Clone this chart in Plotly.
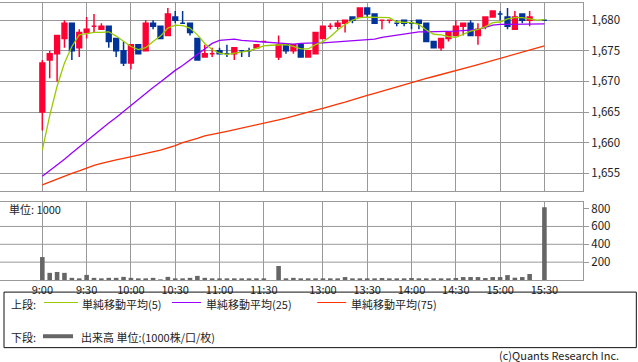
import plotly.graph_objects as go

# ---------------- data ----------------
slots = ["9:00", "9:05", "9:10", "9:15", "9:20", "9:25", "9:30", "9:35", "9:40", "9:45",
         "9:50", "9:55", "10:00", "10:05", "10:10", "10:15", "10:20", "10:25", "10:30", "10:35",
         "10:40", "10:45", "10:50", "10:55", "11:00", "11:05", "11:10", "11:15", "11:20", "11:25",
         "11:30", "12:25", "12:30", "12:35", "12:40", "12:45", "12:50", "12:55", "13:00", "13:05",
         "13:10", "13:15", "13:20", "13:25", "13:30", "13:35", "13:40", "13:45", "13:50", "13:55",
         "14:00", "14:05", "14:10", "14:15", "14:20", "14:25", "14:30", "14:35", "14:40", "14:45",
         "14:50", "14:55", "15:00", "15:05", "15:10", "15:15", "15:20", "15:25", "15:30"]
empty_slots = ["12:25", "15:25"]
candle_times = [t for t in slots if t not in empty_slots]

opens = [1665, 1673.5, 1674.5, 1677, 1679.5, 1675.5, 1678, 1679, 1678.5, 1679,
         1677, 1675, 1673, 1676, 1675, 1679.5, 1679, 1677.5, 1680.5, 1679.5,
         1679.5, 1677, 1674, 1674.5, 1675, 1674.5, 1674.5, 1675, 1675, 1675.5,
         1676.5,
         1674, 1676, 1675, 1676, 1674, 1674.5, 1677, 1679, 1679, 1679.5,
         1680.5, 1680.5, 1682, 1681, 1680, 1680, 1679.5, 1680, 1679.5, 1680,
         1679.5, 1676.5, 1675.5, 1677, 1677.5, 1679, 1679.5, 1677.5, 1679, 1680.5,
         1681, 1680.5, 1678.5, 1681, 1680,
         1680]
highs = [1673.5, 1675, 1677.5, 1680, 1679.5, 1678.5, 1680.5, 1681, 1679.5, 1679,
         1677, 1676.5, 1676, 1676, 1680, 1680, 1679, 1682, 1681.5, 1681.5,
         1679.5, 1677, 1676, 1675.5, 1675.5, 1676, 1675.5, 1675, 1675.5, 1676,
         1676.5,
         1677.5, 1676, 1676, 1676, 1675, 1678, 1679, 1679.5, 1680, 1680,
         1680.5, 1682, 1682, 1681, 1680, 1680, 1680, 1680, 1680, 1680,
         1679.5, 1676.5, 1677, 1678, 1680, 1679.5, 1680, 1679.5, 1680.5, 1681.5,
         1681.5, 1682, 1681.5, 1681, 1681.5,
         1680]
lows = [1662, 1670.5, 1670, 1675.5, 1673.5, 1674, 1677, 1678, 1678.5, 1675.5,
        1674, 1672.5, 1672, 1674.5, 1675, 1678.5, 1677, 1677.5, 1679.5, 1679.5,
        1677.5, 1673.5, 1674, 1674, 1674.5, 1674, 1673.5, 1674, 1674, 1675.5,
        1676.5,
        1673.5, 1674.5, 1674.5, 1674, 1674, 1674.5, 1677, 1678.5, 1678.5, 1678,
        1679.5, 1680.5, 1680.5, 1679.5, 1678.5, 1679.5, 1679, 1679, 1678.5, 1678.5,
        1676.5, 1675.5, 1675, 1676.5, 1677.5, 1677.5, 1677.5, 1676, 1678.5, 1680.5,
        1680, 1678.5, 1678.5, 1679.5, 1679,
        1680]
closes = [1673, 1674.5, 1677.5, 1679.5, 1675, 1678, 1678.5, 1679, 1679, 1676.5,
          1675, 1673, 1676, 1674.5, 1679.5, 1679, 1677, 1681, 1680, 1679.5,
          1678, 1673.5, 1674.5, 1674.5, 1674.5, 1674.5, 1675.5, 1675, 1675, 1676,
          1676.5,
          1676, 1675, 1676, 1674, 1675, 1678, 1679, 1679, 1679.5, 1680,
          1680, 1682, 1681, 1679.5, 1680, 1680, 1679.5, 1679.5, 1679.5, 1679.5,
          1676.5, 1675.5, 1677, 1678, 1679, 1679.5, 1677.5, 1678.5, 1680.5, 1681.5,
          1681, 1679, 1680.5, 1680, 1680.5,
          1680]
volumes = [257, 80, 90, 80, 24, 12, 57, 24, 16, 24,
           24, 35, 24, 16, 16, 24, 7, 35, 16, 16,
           24, 46, 24, 16, 16, 16, 16, 16, 16, 16,
           8,
           157, 16, 24, 18, 18, 15, 18, 18, 11, 33,
           11, 11, 11, 11, 22, 11, 11, 11, 22, 11,
           18, 11, 11, 11, 22, 33, 33, 33, 22, 33,
           33, 55, 26, 33, 67,
           814]

sma5 = [1658.8, 1664.4, 1669.2, 1673.0, 1675.7, 1677.6, 1677.8, 1678.0, 1678.0, 1678.1,
        1677.4, 1676.5, 1675.7, 1675.2, 1675.5, 1676.5, 1677.4, 1678.7, 1679.2, 1679.1,
        1678.7, 1677.6, 1676.2, 1675.2, 1674.6, 1674.4, 1674.6, 1674.9, 1675.0, 1675.4,
        1675.8, 1675.9, 1676.0, 1676.0, 1675.7, 1675.3, 1675.3, 1676.0, 1676.5, 1677.3,
        1678.4, 1679.3, 1680.0, 1680.4, 1680.5, 1680.5, 1680.5, 1680.4, 1679.7, 1679.6,
        1679.6, 1679.3, 1678.4, 1677.7, 1677.6, 1677.3, 1677.2, 1677.7, 1678.2, 1678.5,
        1678.9, 1679.6, 1679.7, 1680.2, 1680.4, 1680.4, 1680.2, 1680.0, 1680.1]
sma25 = [1654.5, 1655.4, 1656.4, 1657.3, 1658.3, 1659.3, 1660.3, 1661.2, 1662.2, 1663.2,
         1664.1, 1665.1, 1666.1, 1667.0, 1668.0, 1669.0, 1669.9, 1670.9, 1671.8, 1672.6,
         1673.5, 1674.4, 1675.4, 1676.2, 1676.7, 1676.8, 1676.9, 1676.7, 1676.6, 1676.6,
         1676.5, 1676.3, 1676.2, 1676.1, 1676.1, 1676.2, 1676.3, 1676.3, 1676.3, 1676.4,
         1676.5, 1676.6, 1676.6, 1676.7, 1676.8, 1676.9, 1677.2, 1677.4, 1677.5, 1677.7,
         1678.0, 1678.1, 1678.1, 1678.1, 1678.2, 1678.2, 1678.2, 1678.3, 1678.4, 1678.5,
         1678.8, 1679.2, 1679.3, 1679.3, 1679.4, 1679.4, 1679.4, 1679.4, 1679.4]
sma75 = [1653.1, 1653.6, 1654.0, 1654.5, 1655.0, 1655.4, 1655.9, 1656.3, 1656.6, 1656.95,
         1657.2, 1657.45, 1657.7, 1658.0, 1658.25, 1658.5, 1658.8, 1659.15, 1659.5, 1660.0,
         1660.3, 1660.7, 1661.1, 1661.3, 1661.6, 1661.85, 1662.1, 1662.35, 1662.6, 1662.85,
         1663.1, 1663.4, 1663.7, 1664.0, 1664.35, 1664.65, 1665.0, 1665.3, 1665.6, 1666.0,
         1666.3, 1666.6, 1667.0, 1667.35, 1667.7, 1668.05, 1668.4, 1668.8, 1669.15, 1669.5,
         1669.9, 1670.2, 1670.5, 1670.8, 1671.1, 1671.4, 1671.7, 1672.05, 1672.4, 1672.75,
         1673.1, 1673.4, 1673.7, 1674.05, 1674.4, 1674.75, 1675.1, 1675.45, 1675.8]

tick_labels = ["9:00", "9:30", "10:00", "10:30", "11:00", "11:30",
               "13:00", "13:30", "14:00", "14:30", "15:00", "15:30"]
price_ticks = [1655, 1660, 1665, 1670, 1675, 1680]
volume_ticks = [200, 400, 600, 800]
volume_grid = [200, 400, 600]

legend_labels = ["単純移動平均(5)", "単純移動平均(25)", "単純移動平均(75)"]
volume_label = "出来高 単位:(1000株/口/枚)"

# ---------------- geometry ----------------
W, H = 638, 362
ML, MR, MT, MB = 0, 55.3, 1, 81.7
PW = W - ML - MR
PH = H - MT - MB


def pxx(x):
    return (x - ML) / PW


def pxy(y):
    return (H - MB - y) / PH


all_x = list(range(len(slots)))
cx = [slots.index(t) for t in candle_times]
tickpos = [slots.index(t) for t in tick_labels]

UP = "#ff0033"
DOWN = "#003399"
GRID = "#999999"
FONT = "Noto Sans CJK JP, Noto Sans, sans-serif"
TXT = "#222222"

fig = go.Figure()

fig.add_trace(go.Candlestick(
    x=cx, open=opens, high=highs, low=lows, close=closes,
    increasing=dict(line=dict(color=UP, width=1.5), fillcolor=UP),
    decreasing=dict(line=dict(color=DOWN, width=1.5), fillcolor=DOWN),
    whiskerwidth=0, showlegend=False, hoverinfo="skip",
    xaxis="x", yaxis="y"))

for vals, col in [(sma75, "#ff3300"), (sma25, "#9900ff"), (sma5, "#99cc00")]:
    fig.add_trace(go.Scatter(x=all_x, y=vals, mode="lines",
                             line=dict(color=col, width=1.3),
                             showlegend=False, hoverinfo="skip",
                             xaxis="x", yaxis="y"))

fig.add_trace(go.Bar(x=cx, y=volumes, width=0.62, marker=dict(color="#666666", line=dict(width=0)),
                     showlegend=False, hoverinfo="skip", xaxis="x2", yaxis="y2"))

xr = [(0 - 42.3) / 7.38, (PW - 42.3) / 7.38]
common_x = dict(range=xr, tickmode="array", tickvals=tickpos, ticktext=tick_labels,
                showgrid=True, gridcolor=GRID, gridwidth=1, zeroline=False,
                showline=True, linecolor=GRID, linewidth=1, mirror=True,
                fixedrange=True, ticks="")

shapes = []
for v in volume_grid:
    shapes.append(dict(type="line", xref="paper", yref="y2", x0=0, x1=1, y0=v, y1=v,
                       line=dict(color=GRID, width=1), layer="below"))

# legend box
shapes.append(dict(type="rect", xref="paper", yref="paper",
                   x0=pxx(4), x1=pxx(636), y0=pxy(292.5), y1=pxy(348.5),
                   line=dict(color="#111111", width=1), fillcolor="rgba(0,0,0,0)"))
leg_lines = [(44, 78, "#99cc00"), (172, 201, "#9900ff"), (317, 346, "#ff3300")]
for x0, x1, col in leg_lines:
    shapes.append(dict(type="line", xref="paper", yref="paper",
                       x0=pxx(x0), x1=pxx(x1), y0=pxy(303), y1=pxy(303),
                       line=dict(color=col, width=1)))
shapes.append(dict(type="line", xref="paper", yref="paper",
                   x0=pxx(43), x1=pxx(73), y0=pxy(337), y1=pxy(337),
                   line=dict(color="#666666", width=4)))

annotations = []


def ann(text, x, y, anchor="left", size=11):
    annotations.append(dict(text=text, x=pxx(x), y=pxy(y), xref="paper", yref="paper",
                            xanchor=anchor, yanchor="middle", showarrow=False,
                            borderpad=0,
                            font=dict(family=FONT, size=size, color=TXT)))


ann("単位: 1000", 8, 208.5)
ann("上段:", 10, 304)
ann(legend_labels[0], 81, 304)
ann(legend_labels[1], 205, 304)
ann(legend_labels[2], 350, 304)
ann("下段:", 10, 337.5)
ann(volume_label, 80, 337.5)
ann("(c)Quants Research Inc.", 620, 355.5, anchor="right")

fig.update_layout(
    width=W, height=H, autosize=False,
    margin=dict(l=ML, r=MR, t=MT, b=MB, pad=0),
    paper_bgcolor="white", plot_bgcolor="white",
    font=dict(family=FONT, size=11.5, color=TXT),
    boxgap=0.35, boxgroupgap=0,
    xaxis=dict(common_x, anchor="y", showticklabels=False, rangeslider=dict(visible=False)),
    xaxis2=dict(common_x, anchor="y2", showticklabels=True,
                tickfont=dict(family=FONT, size=11, color=TXT)),
    yaxis=dict(domain=[pxy(190.3), 1], range=[1652.15, 1682.8], side="right",
               tickmode="array", tickvals=price_ticks, tickformat=",.0f",
               showgrid=True, gridcolor=GRID, zeroline=False,
               showline=True, linecolor=GRID, linewidth=1,
               ticks="outside", ticklen=5, tickcolor=GRID,
               tickfont=dict(family=FONT, size=11.5, color=TXT), fixedrange=True),
    yaxis2=dict(domain=[0, pxy(202)], range=[0, 870], side="right",
                tickmode="array", tickvals=volume_ticks,
                showgrid=False, zeroline=False,
                showline=True, linecolor=GRID, linewidth=1,
                ticks="outside", ticklen=5, tickcolor=GRID,
                tickfont=dict(family=FONT, size=11.5, color=TXT), fixedrange=True),
    shapes=shapes, annotations=annotations,
    showlegend=False,
)

fig.write_html("out.html", config={"displayModeBar": False},
               post_script="document.body.style.margin='0px';document.body.style.padding='0px';")
